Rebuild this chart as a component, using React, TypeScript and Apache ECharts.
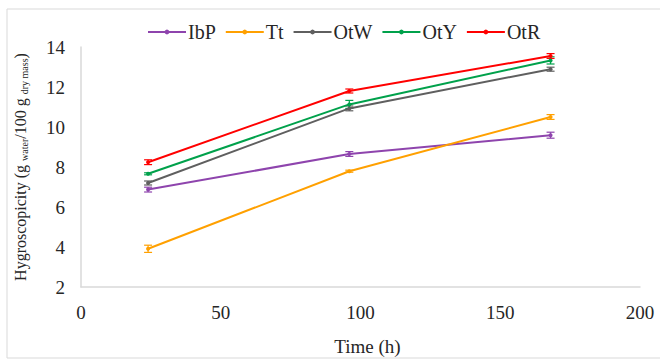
import React, { useEffect, useRef } from "react";
import * as echarts from "echarts";

const hours = [24, 96, 168];
const seriesNames = ["IbP", "Tt", "OtW", "OtY", "OtR"];
const colors = ["#8e44ad", "#ffa000", "#5f5f5f", "#00a14b", "#ff0000"];
const IbP = [6.87, 8.65, 9.59];
const Tt = [3.91, 7.79, 10.5];
const OtW = [7.2, 10.93, 12.89];
const OtY = [7.66, 11.13, 13.33];
const OtR = [8.24, 11.8, 13.55];
const IbPErr = [0.12, 0.12, 0.15];
const TtErr = [0.18, 0.05, 0.12];
const OtWErr = [0.1, 0.12, 0.1];
const OtYErr = [0.05, 0.2, 0.18];
const OtRErr = [0.12, 0.1, 0.12];
const xTicks = [0, 50, 100, 150, 200];
const yTicks = [2, 4, 6, 8, 10, 12, 14];

const values = [IbP, Tt, OtW, OtY, OtR];
const errs = [IbPErr, TtErr, OtWErr, OtYErr, OtRErr];

export default function App() {
  const ref = useRef<HTMLDivElement>(null);
  useEffect(() => {
    if (!ref.current) return;
    const chart = echarts.init(ref.current, undefined, { renderer: "svg" });
    const font = "Liberation Serif";
    const lineSeries = seriesNames.map((name, i) => ({
      name,
      type: "line",
      data: hours.map((h, j) => [h, values[i][j]]),
      symbol: "circle",
      symbolSize: 4,
      showSymbol: true,
      lineStyle: { color: colors[i], width: 2 },
      itemStyle: { color: colors[i] },
      color: colors[i],
      z: 3,
    }));
    const errSeries = seriesNames.map((name, i) => ({
      name: name + "err",
      type: "custom",
      data: hours.map((h, j) => [h, values[i][j] - errs[i][j], values[i][j] + errs[i][j]]),
      renderItem: (params: any, api: any) => {
        const x = api.value(0);
        const lo = api.coord([x, api.value(1)]);
        const hi = api.coord([x, api.value(2)]);
        const w = 4;
        const style = { stroke: colors[i], lineWidth: 1.2, fill: "none" };
        return {
          type: "group",
          children: [
            { type: "line", shape: { x1: lo[0], y1: lo[1], x2: hi[0], y2: hi[1] }, style },
            { type: "line", shape: { x1: lo[0] - w, y1: lo[1], x2: lo[0] + w, y2: lo[1] }, style },
            { type: "line", shape: { x1: hi[0] - w, y1: hi[1], x2: hi[0] + w, y2: hi[1] }, style },
          ],
        };
      },
      z: 2,
      silent: true,
    }));
    chart.setOption({
      animation: false,
      backgroundColor: "#ffffff",
      textStyle: { fontFamily: font },
      graphic: [
        {
          type: "rect",
          shape: { x: 7, y: 9, width: 660, height: 349 },
          style: { fill: "none", stroke: "#d9d9d9", lineWidth: 1 },
          z: -1,
        },
      ],
      legend: {
        data: seriesNames.map((n, i) => ({ name: n, itemStyle: { color: colors[i] } })),
        top: 17,
        left: 142,
        itemWidth: 38,
        itemHeight: 6,
        itemGap: 9,
        textStyle: { fontFamily: font, fontSize: 20, color: "#262626", padding: [0, 0, 0, -3] },
      },
      grid: { left: 81, right: 20, top: 47, bottom: 72, containLabel: false },
      xAxis: {
        type: "value",
        min: xTicks[0],
        max: xTicks[xTicks.length - 1],
        interval: 50,
        name: "Time (h)",
        nameLocation: "middle",
        nameGap: 50,
        nameTextStyle: { fontFamily: font, fontSize: 19, color: "#262626", padding: [0, 0, 0, 14] },
        axisLine: { show: true, lineStyle: { color: "#d9d9d9", width: 1.5 } },
        axisTick: { show: false },
        splitLine: { show: false },
        axisLabel: { fontFamily: font, fontSize: 19, color: "#262626", margin: 16 },
      },
      yAxis: {
        type: "value",
        min: yTicks[0],
        max: yTicks[yTicks.length - 1],
        interval: 2,
        name: "Hygroscopicity (g {sub|water}/100 g {sub|dry mass})",
        nameLocation: "middle",
        nameRotate: 90,
        nameGap: 52,
        nameTextStyle: {
          fontFamily: font,
          fontSize: 16,
          color: "#262626",
          rich: {
            sub: { fontFamily: font, fontSize: 10, color: "#262626", verticalAlign: "bottom", padding: [7, 0, 0, 0] },
          },
        },
        axisLine: { show: true, lineStyle: { color: "#d9d9d9", width: 1.5 } },
        axisTick: { show: false },
        splitLine: { show: false },
        axisLabel: { fontFamily: font, fontSize: 19, color: "#262626", margin: 16 },
      },
      series: [...errSeries, ...lineSeries],
    });
    return () => chart.dispose();
  }, []);
  return (
    <div
      ref={ref}
      style={{ position: "absolute", left: 0, top: 0, width: 660, height: 361 }}
    />
  );
}
